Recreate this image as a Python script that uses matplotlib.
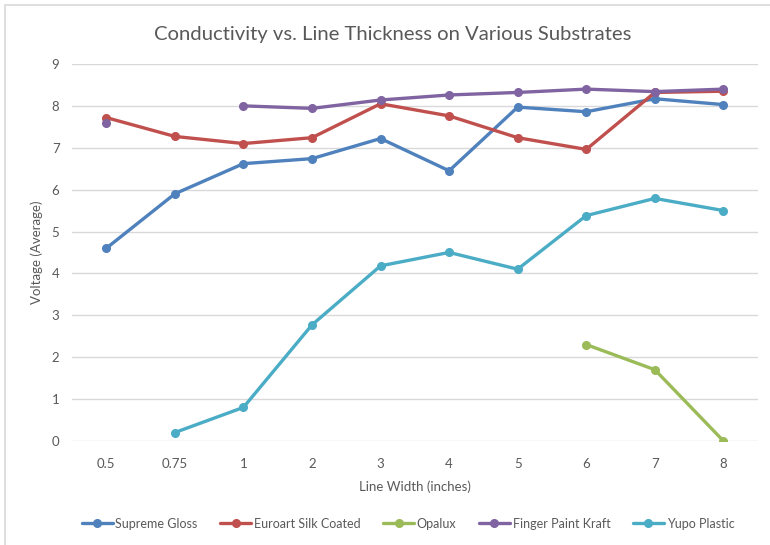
import numpy as np
import matplotlib.pyplot as plt
from matplotlib.patches import Rectangle

plt.rcParams['font.family'] = ['Lato', 'DejaVu Sans']

widths = ['0.5', '0.75', '1', '2', '3', '4', '5', '6', '7', '8']
nan = np.nan

supreme_gloss = [4.6, 5.9, 6.62, 6.74, 7.22, 6.45, 7.97, 7.86, 8.17, 8.03]
euroart_silk = [7.72, 7.27, 7.1, 7.24, 8.05, 7.76, 7.24, 6.96, 8.32, 8.35]
opalux = [nan, nan, nan, nan, nan, nan, nan, 2.3, 1.7, 0.0]
finger_paint = [7.6, nan, 8.0, 7.94, 8.14, 8.26, 8.32, 8.4, 8.34, 8.4]
yupo_plastic = [nan, 0.2, 0.8, 2.77, 4.18, 4.5, 4.1, 5.38, 5.79, 5.5]

series = [
    ('Supreme Gloss', supreme_gloss, '#4F81BD'),
    ('Euroart Silk Coated', euroart_silk, '#C0504D'),
    ('Opalux', opalux, '#9BBB59'),
    ('Finger Paint Kraft', finger_paint, '#8064A2'),
    ('Yupo Plastic', yupo_plastic, '#4BACC6'),
]

fig = plt.figure(figsize=(7.7, 5.45), dpi=100)
ax = fig.add_axes([0.0935, 0.191, 0.8905, 0.6916])

x = np.arange(len(widths))
for name, vals, col in series:
    ax.plot(x, vals, color=col, linewidth=2.4, marker='o', markersize=5.5,
            label=name, solid_capstyle='round')

ax.set_xlim(-0.5, len(widths) - 0.5)
ax.set_ylim(0, 9)
ax.set_yticks(range(0, 10))
ax.set_xticks(x)
ax.set_xticklabels(widths)
ax.grid(axis='y', color='#D9D9D9', linewidth=1)
ax.set_axisbelow(True)
for s in ax.spines.values():
    s.set_visible(False)
ax.tick_params(length=0, colors='#595959', labelsize=9.5)
ax.tick_params(axis='x', pad=12)
ax.tick_params(axis='y', pad=9)

ax.set_xlabel('Line Width (inches)', color='#595959', fontsize=9.5, labelpad=8)
ax.set_ylabel('Voltage (Average)', color='#595959', fontsize=9.5, labelpad=6)
ax.set_title('Conductivity vs. Line Thickness on Various Substrates',
             color='#595959', fontsize=14.6, pad=17, x=0.468)

ax.legend(loc='center', bbox_to_anchor=(0.49, -0.22), ncol=5, frameon=False,
          fontsize=9, handlelength=2.5, columnspacing=1.8, handletextpad=0.2,
          labelcolor='#595959')

# light frame around the chart area
fig.patches.append(Rectangle((5 / 770, -0.1), 1.2, 1 - 5 / 545 + 0.1,
                             transform=fig.transFigure, fill=False,
                             edgecolor='#D9D9D9', linewidth=1.2))

fig.savefig('out.png', dpi=100)
